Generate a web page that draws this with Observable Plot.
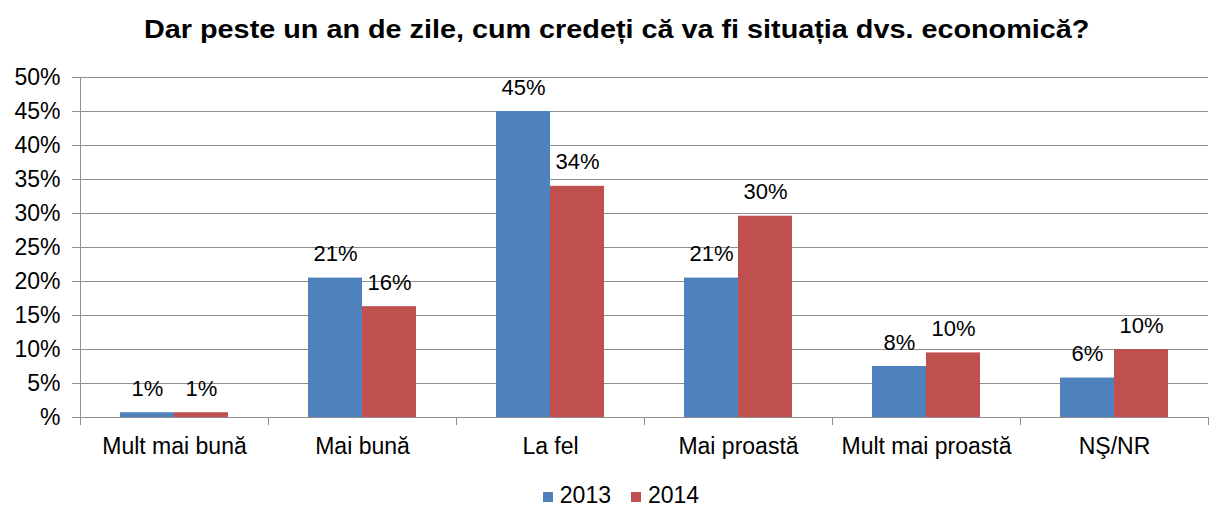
<!DOCTYPE html>
<html><head><meta charset="utf-8">
<script src="https://cdn.jsdelivr.net/npm/d3@7"></script>
<script src="https://cdn.jsdelivr.net/npm/@observablehq/plot@0.6"></script>
<style>
body{margin:0;background:#fff;font-family:"Liberation Sans",Arial,sans-serif;width:1212px;height:506px;overflow:hidden;position:relative;color:#000}
#title{position:absolute;left:12px;top:0;width:1212px;height:56px;line-height:58px;text-align:center;font-weight:bold;font-size:26px;transform:scaleX(1.107);transform-origin:618px 0}
#chart{position:absolute;left:0;top:56px}
#legend{position:absolute;left:0;top:484px;width:1212px;height:22px;text-align:center;font-size:23px;line-height:22px;padding-left:30px;box-sizing:border-box}
#legend span.sw{display:inline-block;width:10px;height:10px;margin-right:7px;vertical-align:1px}
#legend span.item{margin:0 10px}
</style></head>
<body>
<div id="title">Dar peste un an de zile, cum credeți că va fi situația dvs. economică?</div>
<div id="chart"></div>
<div id="legend"></div>
<script>
const categories = ["Mult mai bună","Mai bună","La fel","Mai proastă","Mult mai proastă","NŞ/NR"];
const years = ["2013","2014"];
const values2013 = [0.7, 20.5, 45, 20.5, 7.5, 5.8];
const values2014 = [0.7, 16.3, 34, 29.6, 9.5, 10];
const labels2013 = ["1%","21%","45%","21%","8%","6%"];
const labels2014 = ["1%","16%","34%","30%","10%","10%"];
const colors = ["#4F81BD","#C0504D"];
const yTicks = [0,5,10,15,20,25,30,35,40,45,50];

const rows = [];
categories.forEach((c,i)=>{
  rows.push({cat:c, year:years[0], v:values2013[i], label:labels2013[i]});
  rows.push({cat:c, year:years[1], v:values2014[i], label:labels2014[i]});
});

const gridColor = "#8f8f8f";

function frameLines(index, scales, values, dimensions) {
  const {marginLeft, marginRight, marginTop, marginBottom, width, height} = dimensions;
  const y = scales.y;
  const y0 = y ? y(0) : height - marginBottom;
  const yTop = y ? y(50) : marginTop;
  const g = d3.create("svg:g").attr("stroke", gridColor).attr("stroke-width", 1).attr("shape-rendering","crispEdges");
  let edges;
  if (scales.fx) {
    const fx = scales.fx, bw = fx.bandwidth();
    edges = categories.map(c => fx(c) + bw);
    edges.unshift(fx(categories[0]));
  } else {
    const w = (width - marginLeft - marginRight) / categories.length;
    edges = d3.range(categories.length + 1).map(i => marginLeft + i * w);
  }
  g.append("line").attr("x1", edges[0]).attr("x2", edges[edges.length-1]).attr("y1", y0).attr("y2", y0);
  g.append("line").attr("x1", edges[0]).attr("x2", edges[0]).attr("y1", yTop).attr("y2", y0 + 8);
  edges.slice(1).forEach(x => g.append("line").attr("x1", x).attr("x2", x).attr("y1", y0).attr("y2", y0 + 8));
  return g.node();
}

const chart = Plot.plot({
  width: 1212,
  height: 414,
  marginTop: 21,
  marginBottom: 53,
  marginLeft: 80,
  marginRight: 4,
  style: {fontFamily: '"Liberation Sans", Arial, sans-serif', fontSize: "22px", color: "#000", background: "#fff"},
  fx: {domain: categories, padding: 0, label: null},
  x: {domain: years, paddingInner: 0, paddingOuter: 0.74, axis: null},
  y: {domain: [0, 50], label: null},
  color: {domain: years, range: colors},
  marks: [
    Plot.gridY(yTicks.slice(1), {stroke: gridColor, strokeOpacity: 1}),
    Plot.barY(rows, {fx: "cat", x: "year", y: "v", fill: "year"}),
    Plot.text(rows, {fx: "cat", x: "year", y: "v", text: "label", dy: -24, fontSize: 22, fill: "#000"}),
    Plot.frame({facet: "super", stroke: "none", render: frameLines}),
    Plot.axisY(yTicks, {tickSize: 8, tickPadding: 12, stroke: gridColor, fill: "#000", fontSize: 23, label: null,
      tickFormat: d => d === 0 ? "%" : d + "%"}),
    Plot.axisFx({anchor: "bottom", tickSize: 0, tickPadding: 20, label: null, fontSize: 23, fill: "#000"})
  ]
});
document.getElementById("chart").appendChild(chart);

const legend = document.getElementById("legend");
years.forEach((yr, i) => {
  const item = document.createElement("span");
  item.className = "item";
  const sw = document.createElement("span");
  sw.className = "sw";
  sw.style.background = colors[i];
  item.appendChild(sw);
  item.appendChild(document.createTextNode(yr));
  legend.appendChild(item);
});
</script>
</body></html>
